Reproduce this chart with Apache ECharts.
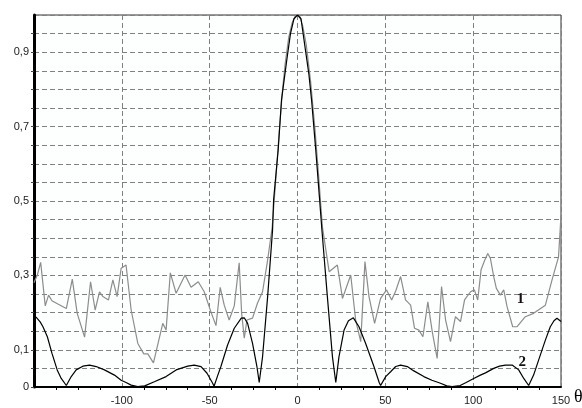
<!DOCTYPE html>
<html><head><meta charset="utf-8">
<script src="https://cdn.jsdelivr.net/npm/echarts@6/dist/echarts.min.js"></script>
<style>html,body{margin:0;padding:0;background:#fff}#c{width:582px;height:408px}</style>
</head><body><div id="c"></div>
<script>
// Curve 1 (grey)
const s1X = [-150,-148.1,-146.2,-143.6,-141.7,-139.8,-136.4,-131.6,-128.2,-125.4,-121.2,-117.8,-115.2,-112.7,-110.8,-107.6,-105.1,-102.7,-100.4,-97.6,-94.7,-90.9,-87.5,-85.2,-82.0,-76.7,-74.8,-72.4,-69.1,-64.0,-60.6,-56.5,-53.1,-49.3,-46.4,-44.0,-41.7,-38.9,-36.0,-33.2,-31.8,-30.3,-28.8,-25.6,-22.8,-19.9,-17.0,-14.4,-12.5,-10.5,-8.5,-7,-5,-3,-1,1,3,5,7.5,10,12,14.2,18.0,22.7,25.6,30.3,33.1,36.0,38.4,40.7,43.9,47.3,50.7,53.6,55.9,58.7,61.5,64.4,66.6,69.1,71.4,74.2,76.7,79.5,82.0,84.3,87.1,89.9,92.8,95.1,98.5,100.7,102.6,104.5,106.5,108.3,109.8,111.7,113.2,115.5,117.4,119.3,122.5,125.0,129.7,134.4,141.1,144.9,148.6,150];
const s1Y = [0.28,0.301,0.335,0.218,0.247,0.232,0.223,0.211,0.29,0.198,0.134,0.283,0.207,0.256,0.243,0.234,0.288,0.243,0.319,0.328,0.207,0.117,0.089,0.089,0.065,0.171,0.153,0.307,0.252,0.301,0.268,0.283,0.256,0.202,0.165,0.268,0.220,0.180,0.218,0.334,0.198,0.131,0.180,0.185,0.225,0.256,0.341,0.43,0.55,0.68,0.8,0.87,0.94,0.98,1.0,1.0,0.97,0.92,0.82,0.69,0.57,0.43,0.31,0.328,0.238,0.301,0.180,0.122,0.337,0.243,0.171,0.238,0.261,0.234,0.258,0.297,0.234,0.220,0.158,0.153,0.135,0.229,0.149,0.077,0.27,0.180,0.122,0.189,0.176,0.234,0.256,0.261,0.234,0.315,0.34,0.359,0.346,0.297,0.265,0.247,0.261,0.216,0.162,0.162,0.189,0.198,0.220,0.288,0.350,0.46];
// Curve 2 (black)
const s2X = [-150,-148.7,-146.5,-144.9,-142.4,-139.8,-136.8,-134.5,-131.6,-128.8,-126,-122.2,-118.4,-114.6,-109.9,-104.2,-100.4,-97.6,-94.7,-91,-87,-81.5,-74.8,-69.1,-62.5,-58.8,-54.9,-51.5,-48.3,-47.5,-45.5,-43.6,-39.8,-36,-32,-30.3,-28.4,-25.6,-23.1,-21.8,-19.9,-17,-14.2,-13.6,-11,-9.1,-6.1,-4,-2,0,2,4.7,6.5,8,10.4,12.6,13.9,17.0,19.9,21.8,23.6,26.5,29,31.8,35,38.8,43.5,46.5,47.3,50.2,53,55.9,58.7,62.5,66,71.9,76.5,81.4,85,88,92.6,96,100.3,104.1,107,111.7,115,118.4,122.2,125.9,128.8,131.6,134.4,137.3,141.1,143.9,146,147.7,150];
const s2Y = [0.189,0.187,0.175,0.162,0.135,0.091,0.046,0.023,0.004,0.028,0.046,0.056,0.059,0.055,0.046,0.032,0.018,0.012,0.005,0.001,0.003,0.014,0.028,0.046,0.056,0.059,0.055,0.037,0.01,0.002,0.03,0.055,0.113,0.158,0.185,0.186,0.171,0.117,0.055,0.012,0.081,0.243,0.422,0.503,0.637,0.772,0.879,0.95,0.99,1.0,0.99,0.9,0.84,0.772,0.637,0.503,0.422,0.243,0.081,0.012,0.081,0.153,0.178,0.186,0.162,0.117,0.055,0.012,0.004,0.028,0.041,0.055,0.059,0.055,0.044,0.028,0.018,0.01,0.003,0.001,0.004,0.012,0.023,0.032,0.038,0.05,0.056,0.059,0.059,0.046,0.023,0.004,0.032,0.073,0.126,0.162,0.178,0.185,0.176];
const yTickValues = [0, 0.1, 0.3, 0.5, 0.7, 0.9];
const yTickLabels = ['0', '0,1', '0,3', '0,5', '0,7', '0,9'];
const xTickHidden = [-150];
const curveLabels = ['1', '2'];
const curveLabelPos = [[127, 0.235], [128, 0.068]];

const zip = (a, b) => a.map((v, i) => [v, b[i]]);
const chart = echarts.init(document.getElementById('c'), null, {renderer: 'canvas'});
const dash = {color: '#808080', width: 1, type: [5, 3]};
chart.setOption({
  animation: false,
  backgroundColor: '#ffffff',
  grid: {left: 34, right: 21, top: 15, bottom: 21, show: true, borderColor: '#333', borderWidth: 1, backgroundColor: '#fdfefe'},
  xAxis: {
    type: 'value', min: -150, max: 150, interval: 50,
    axisLine: {show: true, onZero: false, lineStyle: {color: '#000', width: 2}},
    axisTick: {show: false},
    minorTick: {show: true, splitNumber: 4, length: 3, lineStyle: {color: '#000'}},
    splitLine: {show: true, lineStyle: dash},
    axisLabel: {fontFamily: 'Arial, Liberation Sans', fontSize: 11, color: '#222', margin: 8,
      formatter: v => xTickHidden.includes(v) ? '' : String(v)}
  },
  yAxis: {
    type: 'value', min: 0, max: 1, interval: 0.05,
    axisLine: {show: true, onZero: false, lineStyle: {color: '#000', width: 3}},
    axisTick: {show: true, length: 3, lineStyle: {color: '#444'}},
    splitLine: {show: true, lineStyle: dash},
    axisLabel: {fontFamily: 'Arial, Liberation Sans', fontSize: 11, color: '#222', margin: 5,
      showMaxLabel: false,
      formatter: v => {
        const i = yTickValues.findIndex(t => Math.abs(t - v) < 1e-6);
        return i >= 0 ? yTickLabels[i] : '';
      }}
  },
  series: [
    {type: 'line', name: '1', data: zip(s1X, s1Y), showSymbol: false, symbol: 'none',
      lineStyle: {color: '#8c8c8c', width: 1.2}, z: 3,
      markPoint: {symbol: 'circle', symbolSize: 0, silent: true,
        label: {show: true, formatter: curveLabels[0], fontFamily: 'Times New Roman, Liberation Serif', fontWeight: 'bold', fontSize: 15, color: '#111', position: 'inside'},
        data: [{coord: curveLabelPos[0]}]}},
    {type: 'line', name: '2', data: zip(s2X, s2Y), showSymbol: false, symbol: 'none',
      lineStyle: {color: '#000', width: 1.2}, z: 4,
      markPoint: {symbol: 'circle', symbolSize: 0, silent: true,
        label: {show: true, formatter: curveLabels[1], fontFamily: 'Times New Roman, Liberation Serif', fontWeight: 'bold', fontSize: 15, color: '#111', position: 'inside'},
        data: [{coord: curveLabelPos[1]}]}}
  ],
  graphic: [{type: 'text', left: 574, top: 388, style: {text: 'θ', font: '18px "Liberation Serif", serif', fill: '#000'}}]
});
</script></body></html>
